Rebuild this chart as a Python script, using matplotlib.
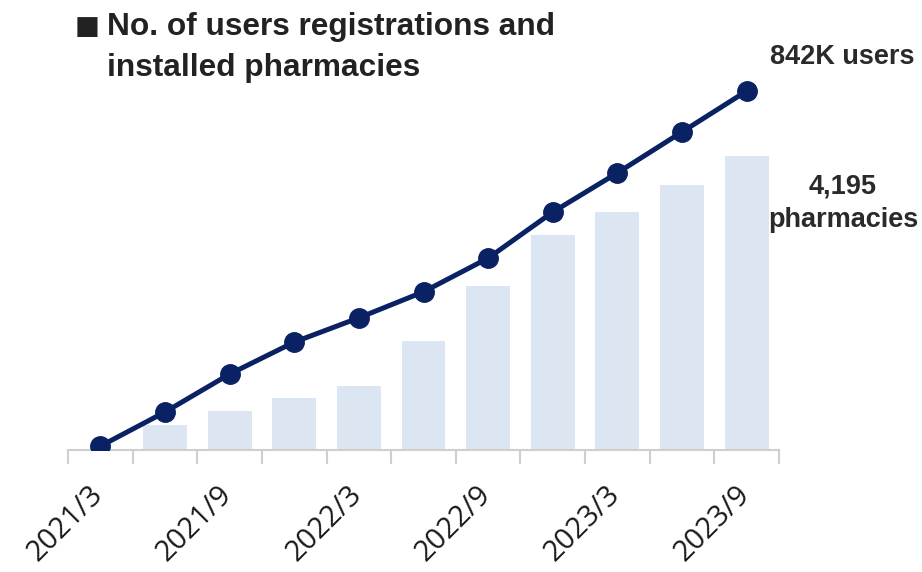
import numpy as np
import matplotlib.pyplot as plt
import matplotlib.transforms as mtransforms

# Quarterly periods
periods = ['2021/3', '2021/6', '2021/9', '2021/12', '2022/3', '2022/6',
           '2022/9', '2022/12', '2023/3', '2023/6', '2023/9']
# Installed pharmacies (bars)
pharmacies = [14, 357, 556, 742, 913, 1555, 2340, 3068, 3396, 3781, 4195]
# Registered users, thousands (line)
users_k = [9, 89, 178, 253, 310, 371, 450, 558, 650, 746, 842]

navy = '#0a2263'
bar_blue = '#dce6f3'
axis_gray = '#cfcfcf'

fig = plt.figure(figsize=(9.22, 5.72), dpi=100)
ax = fig.add_axes([68 / 922, 122 / 572, 711 / 922, 390 / 572])
x = np.arange(len(periods))

ax.bar(x, pharmacies, width=0.68, color=bar_blue, zorder=1)
ax.set_ylim(0, 4195 * 390 / 294)
ax.set_xlim(-0.5, len(periods) - 0.5)

ax2 = ax.twinx()
ax2.plot(x, users_k, color=navy, lw=3.6, marker='o', markersize=14, zorder=3)
ax2.set_ylim(0, 842 * 390 / 359)

for a in (ax, ax2):
    for s in ('top', 'right', 'left'):
        a.spines[s].set_visible(False)
    a.set_yticks([])
ax.spines['bottom'].set_color(axis_gray)
ax.spines['bottom'].set_linewidth(1.5)
ax2.spines['bottom'].set_visible(False)

# boundary ticks between quarters
ax.set_xticks(np.arange(-0.5, len(periods), 1.0))
ax.set_xticklabels([])
ax.tick_params(axis='x', which='major', length=10, width=1.5, color=axis_gray)

# half-year labels, rotated
xform = mtransforms.blended_transform_factory(ax.transData, ax.transAxes)
xform = mtransforms.offset_copy(xform, fig=fig, x=4, y=-46, units='dots')
for i in x[::2]:
    ax.text(i, 0, periods[i], transform=xform, rotation=45, ha='right',
            va='baseline', rotation_mode='anchor', fontsize=21,
            family='Open Sans', color='#1a1a1a', clip_on=False)

fig.text(75 / 922, 1 - 27 / 572, '■', fontsize=19, family='DejaVu Sans',
         color='#222222', va='center', ha='left')
fig.text(107 / 922, 1 - 27 / 572, 'No. of users registrations and', fontsize=22.8,
         fontweight='bold', family='Liberation Sans', color='#222222',
         va='center', ha='left')
fig.text(107 / 922, 1 - 68 / 572, 'installed pharmacies', fontsize=22.8,
         fontweight='bold', family='Liberation Sans', color='#222222',
         va='center', ha='left')

fig.text(842 / 922, 1 - 57 / 572, f'{users_k[-1]}K users', fontsize=19.5,
         fontweight='bold', family='Liberation Sans', color='#2a2a2a',
         ha='center', va='center')
fig.text(843 / 922, 1 - 186 / 572, f'{pharmacies[-1]:,}', fontsize=19.5,
         fontweight='bold', family='Liberation Sans', color='#2a2a2a',
         ha='center', va='center')
fig.text(843 / 922, 1 - 220 / 572, 'pharmacies', fontsize=19.5,
         fontweight='bold', family='Liberation Sans', color='#2a2a2a',
         ha='center', va='center')

fig.savefig('out.png', dpi=100)
